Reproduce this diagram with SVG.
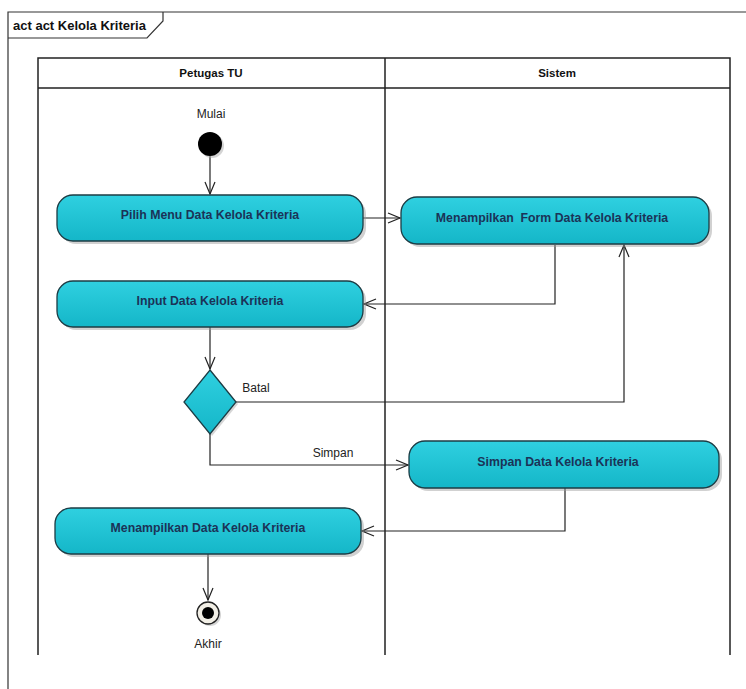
<svg xmlns="http://www.w3.org/2000/svg" width="746" height="689" viewBox="0 0 746 689">
<style>
.frame{fill:none;stroke:#333;stroke-width:1.2}
.lane{fill:none;stroke:#222;stroke-width:1.5}
.act{fill:url(#cy);stroke:#1c3c44;stroke-width:1.3}
.sh{fill:#999;opacity:0.45}
.at{font-family:"Liberation Sans",Arial,sans-serif;font-size:12.3px;font-weight:bold;fill:#1b3357;text-anchor:middle;white-space:pre}
.hd{font-family:"Liberation Sans",Arial,sans-serif;font-size:11.5px;font-weight:bold;fill:#111;text-anchor:middle}
.lb{font-family:"Liberation Sans",Arial,sans-serif;font-size:12px;fill:#222;text-anchor:middle}
.cn{fill:none;stroke:#222;stroke-width:1.2}
</style>
<defs>
<linearGradient id="cy" x1="0" y1="0" x2="0" y2="1">
<stop offset="0" stop-color="#2fd0e0"/>
<stop offset="1" stop-color="#14b6c8"/>
</linearGradient>
<marker id="ar" viewBox="0 0 14 12" refX="13" refY="6" markerWidth="14" markerHeight="12" markerUnits="userSpaceOnUse" orient="auto">
<path d="M1,1 L13,6 L1,11" fill="none" stroke="#222" stroke-width="1.2"/>
</marker>
</defs>
<rect width="746" height="689" fill="#fff"/>
<g id="frame">
<path class="frame" d="M8,689 V12 H746"/>
<path class="frame" d="M8,38 H147 L163,21 V12"/>
<text x="13" y="30" font-family="Liberation Sans,Arial,sans-serif" font-size="13" font-weight="bold" fill="#111">act act Kelola Kriteria</text>
</g>
<g id="lanes">
<path class="lane" d="M38,655 V58 H730 V655 M38,88 H730 M385,58 V655"/>
<text class="hd" x="211" y="77">Petugas TU</text>
<text class="hd" x="557" y="77">Sistem</text>
</g>
<g id="connectors">
<path class="cn" d="M210,156 V194" marker-end="url(#ar)"/>
<path class="cn" d="M363,218 H400" marker-end="url(#ar)"/>
<path class="cn" d="M555,245 V304 H364" marker-end="url(#ar)"/>
<path class="cn" d="M210,327 V369" marker-end="url(#ar)"/>
<path class="cn" d="M236,402 H624 V245" marker-end="url(#ar)"/>
<path class="cn" d="M210,434 V465 H408" marker-end="url(#ar)"/>
<path class="cn" d="M565,488 V531 H362" marker-end="url(#ar)"/>
<path class="cn" d="M208,554 V600" marker-end="url(#ar)"/>
<text class="lb" x="256" y="392">Batal</text>
<text class="lb" x="333" y="457">Simpan</text>
</g>
<g id="start">
<text class="lb" x="211" y="118">Mulai</text>
<circle cx="212" cy="146" r="12" fill="#aaa" opacity="0.5"/>
<circle cx="210" cy="144" r="12" fill="#000"/>
</g>
<g id="pilih">
<rect class="sh" x="60" y="198" width="306" height="46" rx="16"/>
<rect class="act" x="57" y="195" width="306" height="46" rx="16"/>
<text class="at" x="210" y="219">Pilih Menu Data Kelola Kriteria</text>
</g>
<g id="form">
<rect class="sh" x="404" y="200" width="308" height="47" rx="16"/>
<rect class="act" x="401" y="197" width="308" height="47" rx="16"/>
<text class="at" x="552" y="222" xml:space="preserve">Menampilkan  Form Data Kelola Kriteria</text>
</g>
<g id="input">
<rect class="sh" x="60" y="284" width="306" height="46" rx="16"/>
<rect class="act" x="57" y="281" width="306" height="46" rx="16"/>
<text class="at" x="210" y="305">Input Data Kelola Kriteria</text>
</g>
<g id="decision">
<polygon points="212,372 238,404 212,436 186,404" fill="#999" opacity="0.4"/>
<polygon points="210,370 236,402 210,434 184,402" fill="url(#cy)" stroke="#1c3c44" stroke-width="1.3"/>
</g>
<g id="simpan">
<rect class="sh" x="412" y="444" width="310" height="47" rx="16"/>
<rect class="act" x="409" y="441" width="310" height="47" rx="16"/>
<text class="at" x="558" y="466">Simpan Data Kelola Kriteria</text>
</g>
<g id="tampil">
<rect class="sh" x="58" y="511" width="306" height="46" rx="16"/>
<rect class="act" x="55" y="508" width="306" height="46" rx="16"/>
<text class="at" x="208" y="532">Menampilkan Data Kelola Kriteria</text>
</g>
<g id="end">
<circle cx="210" cy="615" r="11" fill="#aaa" opacity="0.5"/>
<circle cx="208" cy="613" r="11" fill="#f2efe6" stroke="#222" stroke-width="1.3"/>
<circle cx="208" cy="613" r="6" fill="#000"/>
<text class="lb" x="208" y="648">Akhir</text>
</g>
</svg>
